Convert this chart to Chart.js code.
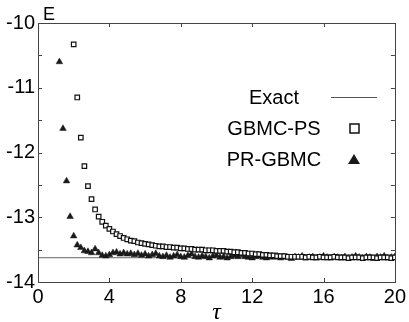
<!DOCTYPE html>
<html><head><meta charset="utf-8">
<script src="https://cdn.jsdelivr.net/npm/chart.js@4"></script>
<style>html,body{margin:0;padding:0;background:#fff;}#wrap{width:409px;height:322px;position:relative;}</style>
</head><body><div id="wrap"><canvas id="c"></canvas></div>
<script>
const exactE = -13.625;
const xRange = [0, 20];
const yRange = [-14, -10];
const xTickStep = 4;
const yTickStep = 0.5;

const tauPR = [1.2,1.4,1.6,1.8,2.0,2.2,2.4,2.6,2.8,3.0,
3.2,3.4,3.6,3.8,4.0,4.2,4.4,4.6,4.8,5.0,
5.2,5.4,5.6,5.8,6.0,6.2,6.4,6.6,6.8,7.0,
7.2,7.4,7.6,7.8,8.0,8.2,8.4,8.6,8.8,9.0,
9.2,9.4,9.6,9.8,10.0,10.2,10.4,10.6,10.8,11.0,
11.2,11.4,11.6,11.8,12.0,12.2,12.4,12.6,12.8,13.0,
13.2,13.4,13.6,13.8,14.0,14.2,14.4,14.6,14.8,15.0,
15.2,15.4,15.6,15.8,16.0,16.2,16.4,16.6,16.8,17.0,
17.2,17.4,17.6,17.8,18.0,18.2,18.4,18.6,18.8,19.0,
19.2,19.4,19.6,19.8,20.0];
const ePR = [-10.60,-11.63,-12.44,-12.99,-13.29,-13.43,-13.47,-13.52,-13.53,-13.55,
-13.49,-13.55,-13.59,-13.60,-13.58,-13.55,-13.54,-13.57,-13.55,-13.57,
-13.56,-13.58,-13.56,-13.59,-13.57,-13.60,-13.58,-13.56,-13.60,-13.61,
-13.59,-13.62,-13.60,-13.58,-13.61,-13.62,-13.59,-13.57,-13.61,-13.62,
-13.60,-13.61,-13.63,-13.60,-13.59,-13.62,-13.61,-13.63,-13.61,-13.59,
-13.61,-13.58,-13.61,-13.62,-13.63,-13.61,-13.60,-13.62,-13.63,-13.61,
-13.62,-13.60,-13.63,-13.61,-13.62,-13.64,-13.61,-13.62,-13.60,-13.63,
-13.62,-13.61,-13.63,-13.62,-13.60,-13.62,-13.63,-13.61,-13.62,-13.63,
-13.61,-13.63,-13.62,-13.60,-13.62,-13.63,-13.61,-13.62,-13.64,-13.61,
-13.62,-13.60,-13.63,-13.62,-13.61];

const tauPS = [2.0,2.2,2.4,2.6,2.8,3.0,3.2,3.4,3.6,3.8,
4.0,4.2,4.4,4.6,4.8,5.0,5.2,5.4,5.6,5.8,
6.0,6.2,6.4,6.6,6.8,7.0,7.2,7.4,7.6,7.8,
8.0,8.2,8.4,8.6,8.8,9.0,9.2,9.4,9.6,9.8,
10.0,10.2,10.4,10.6,10.8,11.0,11.2,11.4,11.6,11.8,
12.0,12.2,12.4,12.6,12.8,13.0,13.2,13.4,13.6,13.8,
14.0,14.2,14.4,14.6,14.8,15.0,15.2,15.4,15.6,15.8,
16.0,16.2,16.4,16.6,16.8,17.0,17.2,17.4,17.6,17.8,
18.0,18.2,18.4,18.6,18.8,19.0,19.2,19.4,19.6,19.8,
20.0];
const ePS = [-10.33,-11.15,-11.77,-12.21,-12.52,-12.72,-12.88,-12.99,-13.07,-13.13,
-13.18,-13.22,-13.26,-13.29,-13.32,-13.34,-13.36,-13.37,-13.39,-13.40,
-13.41,-13.42,-13.43,-13.44,-13.45,-13.45,-13.46,-13.46,-13.47,-13.47,
-13.48,-13.48,-13.49,-13.49,-13.50,-13.50,-13.50,-13.51,-13.51,-13.51,
-13.52,-13.52,-13.52,-13.53,-13.53,-13.54,-13.54,-13.55,-13.55,-13.56,
-13.56,-13.57,-13.57,-13.58,-13.58,-13.59,-13.59,-13.60,-13.60,-13.60,
-13.61,-13.61,-13.61,-13.61,-13.61,-13.62,-13.61,-13.62,-13.62,-13.61,
-13.62,-13.62,-13.62,-13.61,-13.62,-13.62,-13.62,-13.63,-13.62,-13.62,
-13.62,-13.63,-13.62,-13.62,-13.62,-13.63,-13.62,-13.62,-13.62,-13.63,
-13.62];

const seriesNames = ['Exact', 'GBMC-PS', 'PR-GBMC'];

const pts = (xs, ys) => xs.map((x, i) => ({x: x, y: ys[i]}));

const FONT = '"Liberation Sans", Arial, sans-serif';
const AXIS_COLOR = '#444';

const decor = {
  id: 'decor',
  afterDraw(chart) {
    const ctx = chart.ctx, a = chart.chartArea;
    const xs = chart.scales.x, ys = chart.scales.y;
    ctx.save();
    ctx.strokeStyle = AXIS_COLOR;
    ctx.lineWidth = 1;
    ctx.strokeRect(Math.round(a.left) + 0.5, Math.round(a.top) + 0.5, Math.round(a.right - a.left), Math.round(a.bottom - a.top));
    const tl = 4;
    ctx.beginPath();
    for (let v = xRange[0] + xTickStep; v < xRange[1]; v += xTickStep) {
      const px = Math.round(xs.getPixelForValue(v)) + 0.5;
      ctx.moveTo(px, a.bottom); ctx.lineTo(px, a.bottom - tl);
      ctx.moveTo(px, a.top); ctx.lineTo(px, a.top + tl);
    }
    for (let v = yRange[0] + yTickStep; v < yRange[1] - 1e-9; v += yTickStep) {
      const py = Math.round(ys.getPixelForValue(v)) + 0.5;
      ctx.moveTo(a.left, py); ctx.lineTo(a.left + tl, py);
      ctx.moveTo(a.right, py); ctx.lineTo(a.right - tl, py);
    }
    ctx.stroke();

    // axis titles
    ctx.fillStyle = '#000';
    ctx.font = '18px ' + FONT;
    ctx.textAlign = 'left'; ctx.textBaseline = 'alphabetic';
    ctx.fillText('E', a.left + 5, a.top - 3);
    ctx.font = 'italic 24px "Liberation Serif", "DejaVu Serif", serif';
    ctx.textAlign = 'center';
    ctx.fillText('\u03C4', (a.left + a.right) / 2, 319);

    // legend
    const lx = 274, mx = 354;
    const rows = [97, 128, 159];
    ctx.font = '20px ' + FONT;
    ctx.textAlign = 'center'; ctx.textBaseline = 'middle';
    seriesNames.forEach((n, i) => ctx.fillText(n, lx, rows[i] + 1));
    ctx.strokeStyle = '#555';
    ctx.beginPath(); ctx.moveTo(331, rows[0] + 0.5); ctx.lineTo(377, rows[0] + 0.5); ctx.stroke();
    ctx.strokeStyle = '#111'; ctx.lineWidth = 1.5;
    ctx.strokeRect(mx - 4, rows[1] - 4, 9, 9);
    ctx.fillStyle = '#1a1a1a';
    ctx.beginPath(); ctx.moveTo(mx, rows[2] - 5); ctx.lineTo(mx + 6, rows[2] + 5); ctx.lineTo(mx - 6, rows[2] + 5); ctx.closePath(); ctx.fill();
    ctx.restore();
  }
};

new Chart(document.getElementById('c'), {
  type: 'scatter',
  data: {
    datasets: [
      { label: seriesNames[0], type: 'line', data: pts(xRange, [exactE, exactE]), borderColor: '#666', borderWidth: 1, pointRadius: 0, fill: false, order: 3 },
      { label: seriesNames[2], data: pts(tauPR, ePR), pointStyle: 'triangle', pointRadius: 3.8, backgroundColor: '#1a1a1a', borderColor: '#1a1a1a', borderWidth: 0.5, order: 2 },
      { label: seriesNames[1], data: pts(tauPS, ePS), pointStyle: 'rect', pointRadius: 3.2, backgroundColor: '#fff', borderColor: '#111', borderWidth: 1.2, order: 1 }
    ]
  },
  options: {
    animation: false, responsive: true, maintainAspectRatio: false,
    layout: { padding: { top: 23, right: 12, left: 0, bottom: 0 } },
    plugins: { legend: { display: false }, tooltip: { enabled: false } },
    scales: {
      x: {
        type: 'linear', min: xRange[0], max: xRange[1],
        ticks: { stepSize: xTickStep, color: '#000', font: { family: FONT, size: 20 }, padding: 3, maxRotation: 0 },
        grid: { display: false, drawTicks: false }, border: { display: false },
        afterFit(s) { s.height = 40; }
      },
      y: {
        type: 'linear', min: yRange[0], max: yRange[1],
        ticks: { stepSize: yTickStep, color: '#000', font: { family: FONT, size: 20 }, padding: 3,
          callback: v => Number.isInteger(v) ? String(v) : '' },
        grid: { display: false, drawTicks: false }, border: { display: false },
        afterFit(s) { s.width = 38; }
      }
    }
  },
  plugins: [decor]
});
</script></body></html>
